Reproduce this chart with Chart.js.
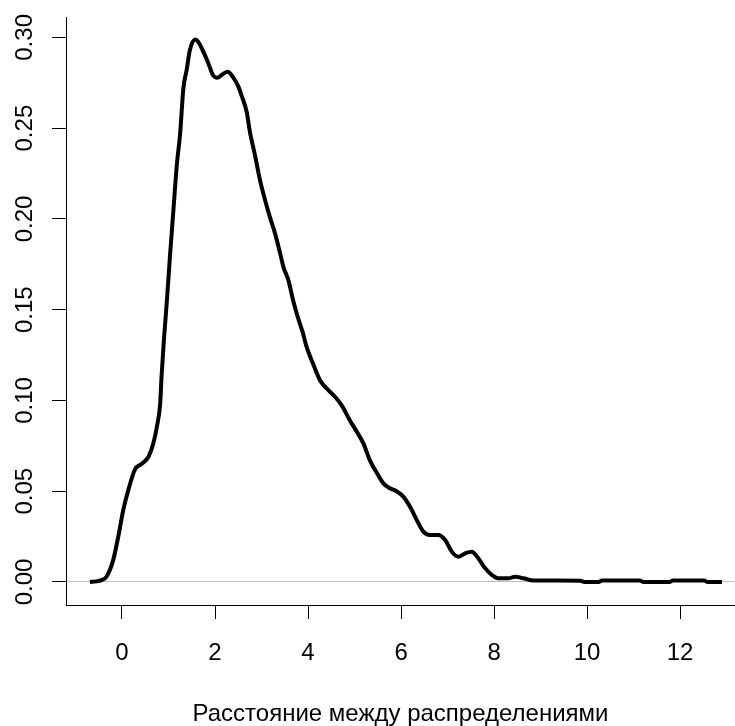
<!DOCTYPE html>
<html>
<head>
<meta charset="utf-8">
<script src="https://cdn.jsdelivr.net/npm/chart.js@4"></script>
<style>
  html, body { margin: 0; padding: 0; background: #fff; overflow: hidden; }
</style>
</head>
<body>
<canvas id="densityChart" width="735" height="726"></canvas>
<script>
// density estimate
var distX = [-0.69, -0.55, -0.44, -0.33, -0.19, -0.08, 0.03, 0.14, 0.28, 0.42,
  0.57, 0.67, 0.75, 0.82, 0.85, 0.90, 0.96, 1.03, 1.10, 1.18,
  1.25, 1.32, 1.39, 1.46, 1.58, 1.64, 1.75, 1.86, 1.96, 2.05,
  2.18, 2.27, 2.39, 2.50, 2.57, 2.68, 2.75, 2.86, 2.97, 3.08,
  3.18, 3.29, 3.40, 3.47, 3.58, 3.68, 3.79, 3.88, 3.97, 4.11,
  4.26, 4.40, 4.58, 4.72, 4.90, 5.05, 5.19, 5.33, 5.48, 5.62,
  5.76, 5.90, 6.05, 6.19, 6.34, 6.48, 6.62, 6.80, 6.95, 7.09,
  7.23, 7.38, 7.52, 7.66, 7.81, 7.95, 8.09, 8.31, 8.45, 8.63,
  8.85, 9.40, 9.85, 9.95, 10.25, 10.32, 11.14, 11.20, 11.78, 11.84,
  12.52, 12.58, 12.90];
var density = [0.0000, 0.0003, 0.0010, 0.0030, 0.0120, 0.0250, 0.0400, 0.0510, 0.0620, 0.0650,
  0.0690, 0.0760, 0.0855, 0.0980, 0.1130, 0.1330, 0.1530, 0.1790, 0.2030, 0.2300,
  0.2470, 0.2720, 0.2820, 0.2930, 0.2988, 0.2975, 0.2920, 0.2855, 0.2790, 0.2778,
  0.2800, 0.2810, 0.2780, 0.2730, 0.2680, 0.2590, 0.2480, 0.2350, 0.2210, 0.2100,
  0.2010, 0.1920, 0.1810, 0.1736, 0.1660, 0.1550, 0.1450, 0.1380, 0.1295, 0.1200,
  0.1110, 0.1066, 0.1020, 0.0974, 0.0890, 0.0827, 0.0763, 0.0670, 0.0600, 0.0543,
  0.0516, 0.0500, 0.0470, 0.0415, 0.0340, 0.0277, 0.0259, 0.0259, 0.0231, 0.0167,
  0.0139, 0.0158, 0.0167, 0.0130, 0.0075, 0.0039, 0.0020, 0.0020, 0.0029, 0.0020,
  0.0008, 0.0008, 0.0007, 0.0000, 0.0000, 0.0008, 0.0008, 0.0000, 0.0000, 0.0008,
  0.0008, 0.0000, 0.0000];

var xTicks = [0, 2, 4, 6, 8, 10, 12];
var yTicks = [0, 0.05, 0.10, 0.15, 0.20, 0.25, 0.30];
var xTitle = "Расстояние между распределениями";

var points = distX.map(function (x, i) { return { x: x, y: density[i] }; });
var axisFont = { family: "'Liberation Sans', Arial, sans-serif", size: 24 };

var ctx = document.getElementById('densityChart');
var chart = new Chart(ctx, {
  type: 'line',
  data: {
    datasets: [{
      data: points,
      borderColor: '#000',
      borderWidth: 4,
      pointRadius: 0,
      cubicInterpolationMode: 'monotone',
      fill: false
    }]
  },
  options: {
    responsive: false,
    devicePixelRatio: 1,
    animation: false,
    layout: { padding: { left: 0, right: 0, top: 17, bottom: 0 } },
    plugins: { legend: { display: false }, tooltip: { enabled: false } },
    scales: {
      x: {
        type: 'linear',
        min: -1.204,
        max: 13.18,
        afterBuildTicks: function (scale) {
          scale.ticks = xTicks.map(function (v) { return { value: v }; });
        },
        afterFit: function (scale) { scale.height = 121; },
        grid: { drawOnChartArea: false, tickLength: 14, tickColor: '#000' },
        border: { display: true, color: '#000', width: 1 },
        ticks: { color: '#000', font: axisFont, padding: 20, maxRotation: 0 },
        title: {
          display: true,
          text: xTitle,
          color: '#000',
          font: { family: axisFont.family, size: 24, lineHeight: 1 },
          padding: { top: 0, bottom: 0 }
        }
      },
      y: {
        type: 'linear',
        min: -0.0127,
        max: 0.311,
        afterBuildTicks: function (scale) {
          scale.ticks = yTicks.map(function (v) { return { value: v }; });
        },
        afterFit: function (scale) { scale.width = 66; },
        grid: {
          drawOnChartArea: true,
          tickLength: 14,
          tickColor: '#000',
          color: function (c) { return c.tick && c.tick.value === 0 ? '#bebebe' : 'rgba(0,0,0,0)'; }
        },
        border: { display: true, color: '#000', width: 1 },
        ticks: {
          color: '#000',
          font: axisFont,
          padding: 3,
          minRotation: 90,
          maxRotation: 90,
          crossAlign: 'center',
          callback: function (v) { return v.toFixed(2); }
        }
      }
    }
  }
});
</script>
</body>
</html>
